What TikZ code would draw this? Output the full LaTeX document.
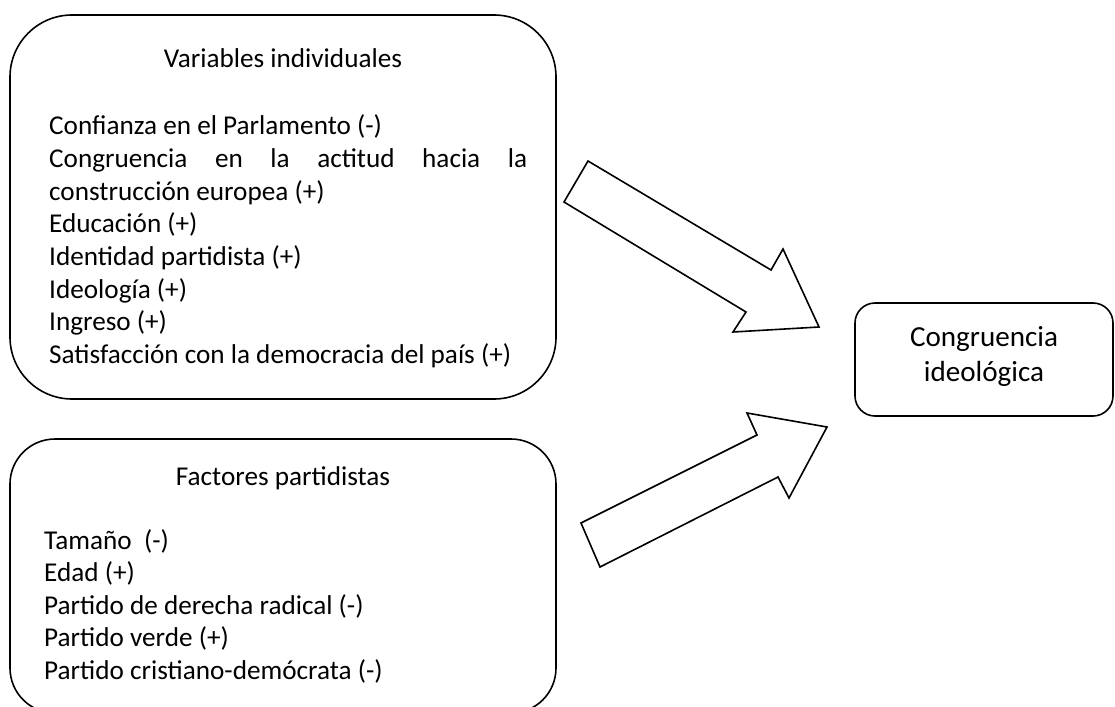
\documentclass[tikz,border=0pt]{standalone}
\usepackage{fontspec}
\setmainfont{Carlito}
\begin{document}
\begin{tikzpicture}[x=1pt,y=-1pt,
  box/.style={draw, line width=1.6pt, inner sep=0pt},
  txt/.style={inner sep=0pt, font=\fontsize{27.2}{32.6}\selectfont},
  blockarrow/.style={draw, line width=1.6pt, line join=miter, fill=white}]
\useasboundingbox (0,0) rectangle (1115,706);
\clip (0,0) rectangle (1115,706);
% boxes
\node[box, rounded corners=62pt, minimum width=546pt, minimum height=384pt] (indiv) at (283,207) {};
\node[box, rounded corners=45pt, minimum width=546pt, minimum height=274pt] (part) at (283,576) {};
\node[box, rounded corners=20pt, minimum width=258pt, minimum height=113pt] (cong) at (984,359.5) {};
\node[align=center, inner sep=0pt, font=\fontsize{29.1}{35}\selectfont] (congtext) at (984,356) {Congruencia\\ideológica};
% titles
\node[txt, anchor=base] (indivtitle) at (283,68) {Variables individuales};
\node[txt, anchor=base] (parttitle) at (283,485) {Factores partidistas};
% lists
\foreach \t [count=\i from 0] in {
  Confianza en el Parlamento (-),
  {\makebox[478pt][s]{Congruencia en la actitud hacia la}},
  construcción europea (+),
  Educación (+),
  Identidad partidista (+),
  Ideología (+),
  Ingreso (+),
  Satisfacción con la democracia del país (+)}
  \node[txt, anchor=base west] (v\i) at (49,135+32.6*\i) {\t};
\foreach \t [count=\i from 0] in {
  Tamaño~ (-),
  Edad (+),
  Partido de derecha radical (-),
  Partido verde (+),
  Partido cristiano-demócrata (-)}
  \node[txt, anchor=base west] (p\i) at (44,549+32.6*\i) {\t};
% block arrows
\draw[blockarrow] (588,161) -- (771,270) -- (783,249) -- (819,327) -- (733,332) -- (746,312) -- (564,202) -- cycle;
\draw[blockarrow] (581,523) -- (757,435) -- (747,413) -- (827,427) -- (789,498) -- (778,477) -- (600,567) -- cycle;
\end{tikzpicture}
\end{document}
